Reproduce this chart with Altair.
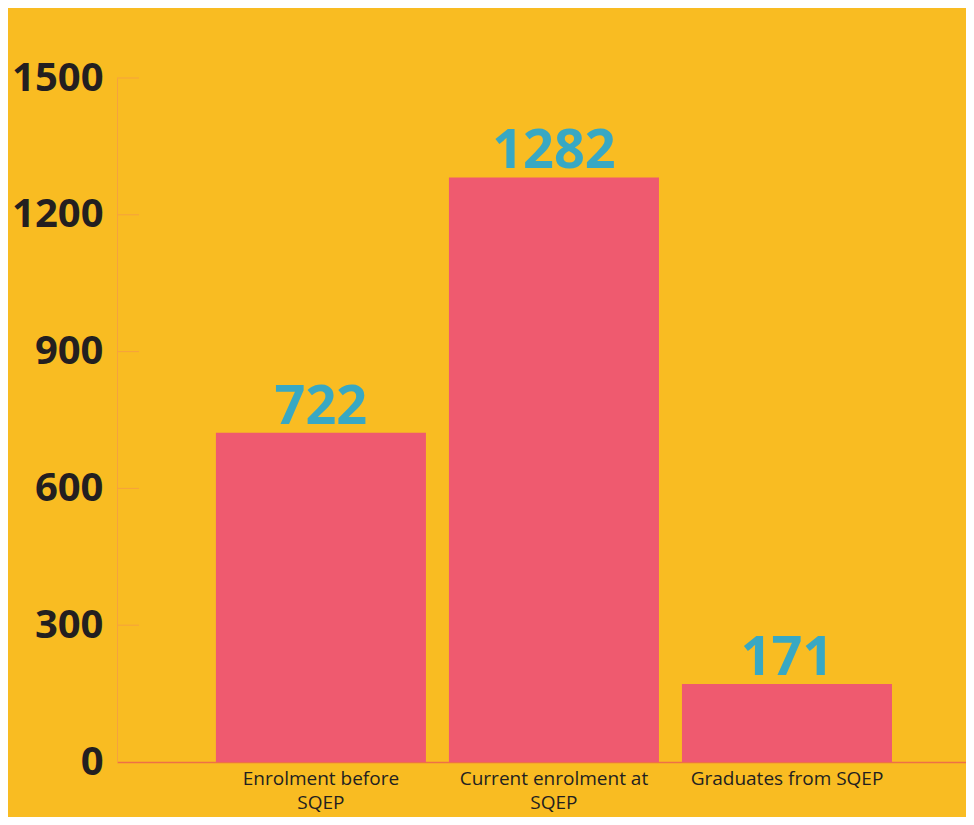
import altair as alt
import pandas as pd

categories = ["Enrolment before\nSQEP", "Current enrolment at\nSQEP", "Graduates from SQEP"]
values = [722, 1282, 171]
y_ticks = [0, 300, 600, 900, 1200, 1500]

BG = "#F9BC22"
BAR = "#EF5A6F"
BLUE = "#38A8C3"
DARK = "#231F20"
AXIS_Y = "#F5A23E"
AXIS_X = "#EE7046"

df = pd.DataFrame({"cat": categories, "val": values})
ticks_df = pd.DataFrame({"t": y_ticks[1:]})

xscale = alt.Scale(domain=categories, paddingInner=0.0987, paddingOuter=0.371, align=0.572)
yscale = alt.Scale(domain=[0, 1500], nice=False)

bars = alt.Chart(df).mark_bar(color=BAR).encode(
    x=alt.X("cat:N", scale=xscale, sort=categories,
            axis=alt.Axis(title=None, labelAngle=0, ticks=False, labelPadding=7,
                          labelFontSize=19, labelFont="Open Sans", labelColor=DARK,
                          labelLineHeight=24, labelLimit=0, domainColor=AXIS_X,
                          domainWidth=1.5,
                          labelExpr="split(datum.label, '\\n')")),
    y=alt.Y("val:Q", scale=yscale,
            axis=alt.Axis(title=None, values=y_ticks, ticks=False, grid=False,
                          format="d",
                          labelFontSize=40, labelFont="Open Sans", labelFontWeight="bold",
                          labelColor=DARK, labelPadding=14, domainColor=AXIS_Y,
                          domainWidth=1)),
)

labels = alt.Chart(df).mark_text(
    font="Open Sans", fontWeight="bold", fontSize=54, color=BLUE,
    baseline="alphabetic", dy=-9
).encode(
    x=alt.X("cat:N", scale=xscale, sort=categories),
    y=alt.Y("val:Q", scale=yscale),
    text=alt.Text("val:Q"),
)

tick_rules = alt.Chart(ticks_df).mark_rule(color=AXIS_Y, strokeWidth=1).encode(
    y=alt.Y("t:Q", scale=yscale),
    x=alt.value(0),
    x2=alt.value(22),
)

chart = alt.layer(bars, tick_rules, labels).properties(
    width=849, height=684,
    background=BG,
    padding={"left": 109, "top": 70, "right": 0, "bottom": 55},
    autosize=alt.AutoSizeParams(type="none"),
).configure_view(stroke=None)

chart.save("out.html", embed_options={"renderer": "svg", "actions": False})
